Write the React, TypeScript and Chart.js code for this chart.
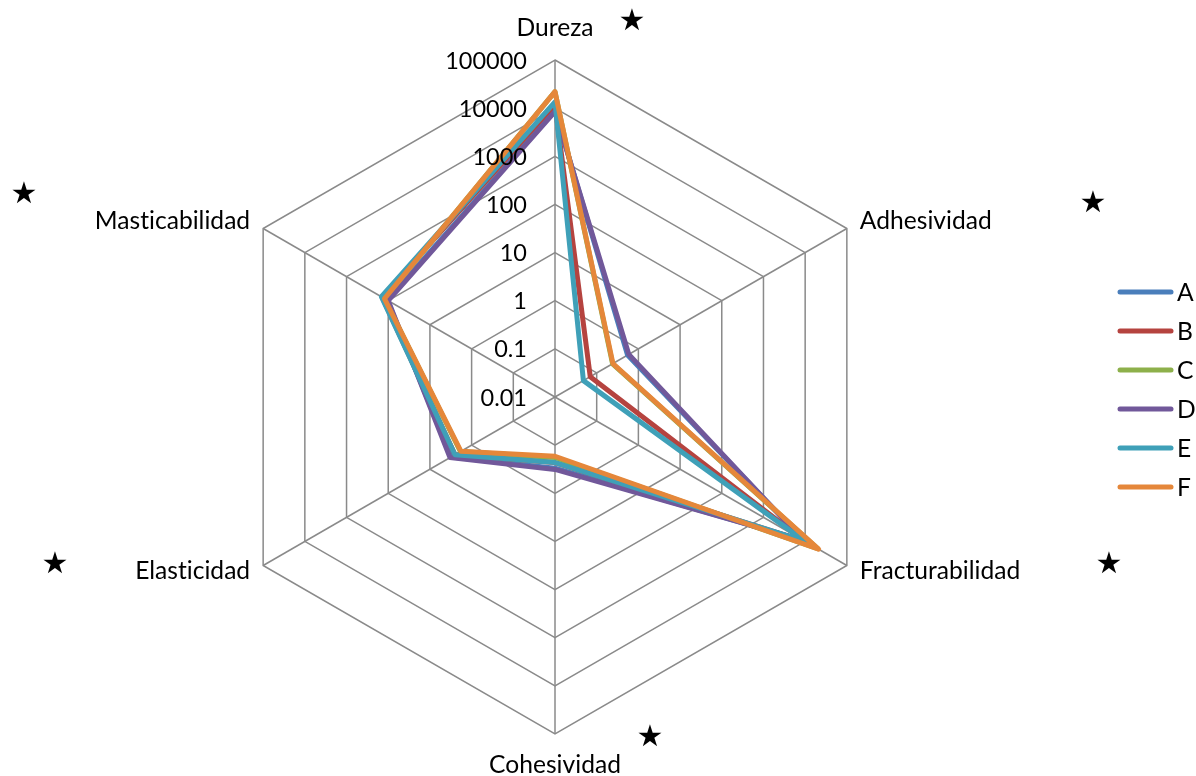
import React, { useEffect, useRef } from "react";
import { Chart, registerables } from "chart.js";

Chart.register(...registerables);

const categories = ["Dureza", "Adhesividad", "Fracturabilidad", "Cohesividad", "Elasticidad", "Masticabilidad"];
const seriesNames = ["A", "B", "C", "D", "E", "F"];
const seriesA = [9000, 0.55, 9500, 0.3, 3.1, 105];
const seriesB = [12000, 0.07, 10000, 0.23, 2.5, 140];
const seriesC = [22000, 0.24, 20000, 0.18, 1.85, 123];
const seriesD = [8500, 0.59, 9000, 0.32, 3.3, 100];
const seriesE = [13500, 0.048, 9700, 0.23, 2.5, 146];
const seriesF = [22000, 0.245, 21000, 0.17, 1.8, 123];
const seriesValues = [seriesA, seriesB, seriesC, seriesD, seriesE, seriesF];
const tickValues = [0.01, 0.1, 1, 10, 100, 1000, 10000, 100000];
const tickLabels = ["0.01", "0.1", "1", "10", "100", "1000", "10000", "100000"];
const colors = ["#4A7EBB", "#B5433F", "#8DB04B", "#71589A", "#3FA0B8", "#E5873A"];

const TICK_FONT = '23.5px Lato, "Open Sans", sans-serif';
const LABEL_FONT = '24.6px Lato, "Open Sans", sans-serif';

const decorPlugin = {
  id: "decor",
  afterDraw(chart: any) {
    const ctx = chart.ctx;
    const scale = chart.scales.r;
    ctx.save();
    ctx.fillStyle = "#000";
    ctx.font = TICK_FONT;
    try {
      ctx.letterSpacing = "0.01px";
    } catch (e) {}
    // tick labels
    ctx.textAlign = "right";
    ctx.textBaseline = "middle";
    tickValues.forEach((v, i) => {
      const d = scale.getDistanceFromCenterForValue(Math.log10(v));
      ctx.fillText(tickLabels[i], scale.xCenter - 28, scale.yCenter - d + 1);
    });
    // point labels
    ctx.font = LABEL_FONT;
    const offs = [
      { a: "center", dx: 0, dy: -32 },
      { a: "left", dx: 13, dy: -7 },
      { a: "left", dx: 13, dy: 6 },
      { a: "center", dx: 0, dy: 31 },
      { a: "right", dx: -13, dy: 6 },
      { a: "right", dx: -13, dy: -7 },
    ];
    categories.forEach((c, i) => {
      const p = scale.getPointPosition(i, scale.drawingArea);
      ctx.textAlign = offs[i].a;
      ctx.fillText(c, p.x + offs[i].dx, p.y + offs[i].dy);
    });
    // stars
    ctx.font = '30px "DejaVu Sans"';
    ctx.textAlign = "center";
    const stars = [
      [632, 22],
      [24, 195],
      [1093, 204],
      [55, 565],
      [1109, 565],
      [650, 738],
    ];
    stars.forEach(([x, y]) => ctx.fillText("\u2605", x, y));
    // legend
    ctx.font = LABEL_FONT;
    ctx.textAlign = "left";
    ctx.lineCap = "round";
    ctx.lineWidth = 5;
    seriesNames.forEach((n, i) => {
      const y = 292 + i * 39;
      ctx.strokeStyle = colors[i];
      ctx.beginPath();
      ctx.moveTo(1120, y);
      ctx.lineTo(1171, y);
      ctx.stroke();
      ctx.fillText(n, 1177, y + 1);
    });
    ctx.restore();
  },
};

export default function App() {
  const ref = useRef<HTMLCanvasElement>(null);
  useEffect(() => {
    const chart = new Chart(ref.current!, {
      type: "radar",
      data: {
        labels: categories,
        datasets: seriesValues.map((vals, i) => ({
          label: seriesNames[i],
          data: vals.map((v) => Math.log10(v)),
          borderColor: colors[i],
          backgroundColor: "transparent",
          borderWidth: 5,
          borderJoinStyle: "round" as const,
          pointRadius: 0,
          pointHoverRadius: 0,
          fill: false,
          order: seriesNames.length - i,
        })),
      },
      options: {
        responsive: false,
        animation: false,
        layout: { padding: { left: 218, right: 304, top: 60, bottom: 42 } },
        plugins: { legend: { display: false }, tooltip: { enabled: false } },
        scales: {
          r: {
            min: -2,
            max: 5,
            ticks: { display: false, stepSize: 1 },
            pointLabels: { display: false },
            grid: { color: "#8a8a8a", lineWidth: 1.5 },
            angleLines: { color: "#8a8a8a", lineWidth: 1.5 },
          },
        },
      },
      plugins: [decorPlugin],
    });
    return () => chart.destroy();
  }, []);
  return (
    <div style={{ position: "absolute", left: 0, top: 0, width: 1196, height: 776, background: "#fff" }}>
      <canvas ref={ref} width={1196} height={776} />
    </div>
  );
}
